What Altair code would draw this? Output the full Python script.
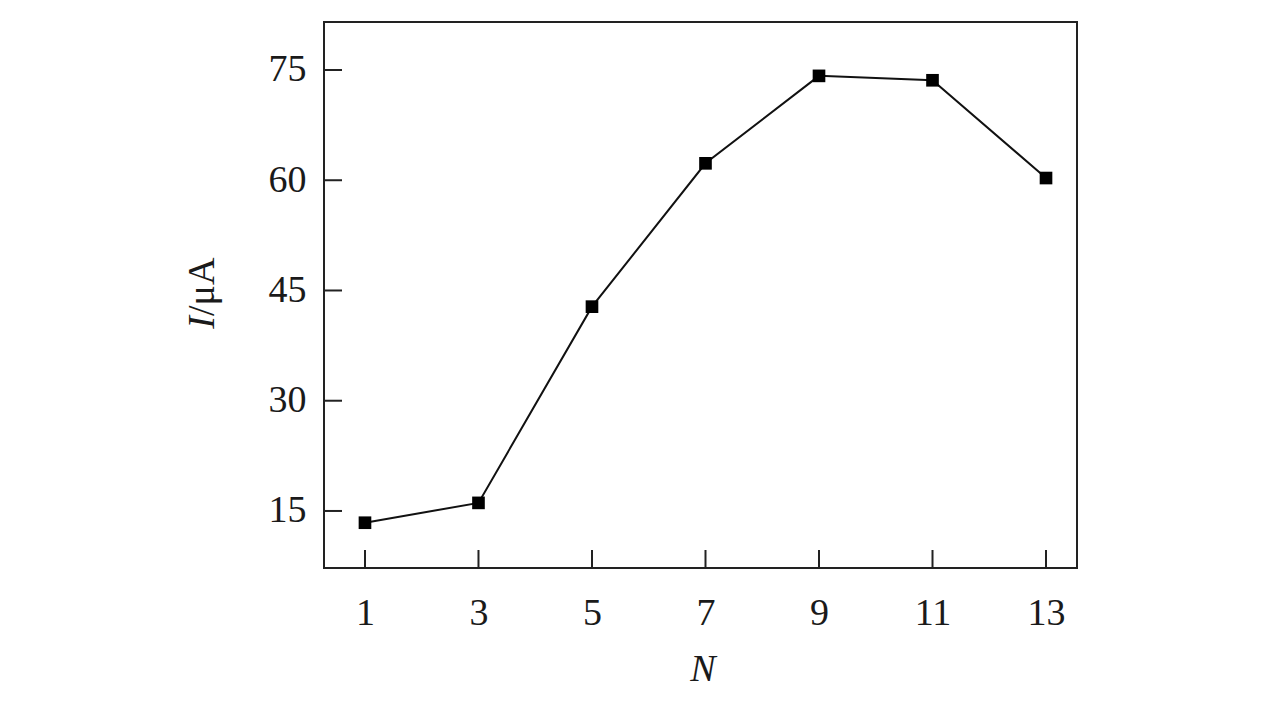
import altair as alt
import pandas as pd

N_vals = [1, 3, 5, 7, 9, 11, 13]
I_vals = [13.4, 16.1, 42.8, 62.3, 74.2, 73.6, 60.3]
x_ticks = [1, 3, 5, 7, 9, 11, 13]
y_ticks = [15, 30, 45, 60, 75]

W, H = 753, 546
FONT = "Liberation Serif"
FS = 38
COL = "#1a1a1a"

df = pd.DataFrame({"N": N_vals, "I": I_vals})
xs = alt.Scale(domain=[0.278, 13.546], nice=False, zero=False)
ys = alt.Scale(domain=[7.24, 81.53], nice=False, zero=False)

base = alt.Chart(df)
line = base.mark_line(color="#111", strokeWidth=2).encode(
    x=alt.X("N:Q", scale=xs, axis=alt.Axis(values=x_ticks, format="d", title=None, ticks=False,
                                            domain=False, grid=False, labelFont=FONT, labelFontSize=FS,
                                            labelColor=COL, labelPadding=26)),
    y=alt.Y("I:Q", scale=ys, axis=alt.Axis(values=y_ticks, format="d", title=None, ticks=False,
                                            domain=False, grid=False, labelFont=FONT, labelFontSize=FS,
                                            labelColor=COL, labelPadding=18)),
)
pts = base.mark_square(color="#000", size=160, opacity=1).encode(
    x=alt.X("N:Q", scale=xs), y=alt.Y("I:Q", scale=ys)
)

xt = alt.Chart(pd.DataFrame({"t": x_ticks})).mark_rule(color="#222", strokeWidth=2).encode(
    x=alt.X("t:Q", scale=xs), y=alt.value(H), y2=alt.value(H - 18)
)
yt = alt.Chart(pd.DataFrame({"t": y_ticks})).mark_rule(color="#222", strokeWidth=2).encode(
    y=alt.Y("t:Q", scale=ys), x=alt.value(0), x2=alt.value(18)
)

one = pd.DataFrame({"a": [0]})
t_I = alt.Chart(one).mark_text(text="I", font=FONT, fontSize=FS, fontStyle="italic", angle=270,
                               align="right", baseline="middle", color=COL).encode(
    x=alt.value(-121), y=alt.value(294))
t_rest = alt.Chart(one).mark_text(text="/μA", font=FONT, fontSize=FS, angle=270,
                                  align="left", baseline="middle", color=COL).encode(
    x=alt.value(-121), y=alt.value(294))
t_N = alt.Chart(one).mark_text(text="N", font=FONT, fontSize=FS, fontStyle="italic",
                               align="center", baseline="middle", color=COL).encode(
    x=alt.value(379), y=alt.value(H + 102))

chart = alt.layer(xt, yt, line, pts, t_I, t_rest, t_N).properties(
    width=W, height=H,
    autosize=alt.AutoSizeParams(type="none"),
    padding={"left": 316, "top": 14, "right": 180, "bottom": 130},
).configure(background="white").configure_view(stroke="#222", strokeWidth=2)

chart.save("out.html", embed_options={"renderer": "svg", "actions": False})
